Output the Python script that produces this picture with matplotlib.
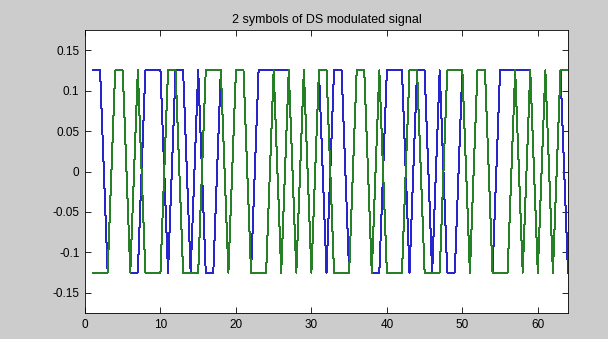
import numpy as np
import matplotlib
matplotlib.use('Agg')
import matplotlib.pyplot as plt

# chip index (matlab style, 1-based)
n = np.arange(1, 65)

# blue trace (2 symbols x 32 chips)
blue = [0.125, 0.125, -0.125, 0.125, 0.125, -0.125, -0.125, 0.125,
        0.125, 0.125, -0.125, 0.125, 0.125, -0.125, 0.125, -0.125,
        -0.125, 0.125, -0.125, 0.125, 0.125, -0.125, 0.125, 0.125,
        0.125, 0.125, 0.125, -0.125, 0.125, -0.125, 0.125, -0.125,
        0.125, 0.125, -0.125, 0.125, 0.125, -0.125, -0.125, 0.125,
        0.125, 0.125, -0.125, 0.125, 0.125, -0.125, 0.125, -0.125,
        -0.125, 0.125, -0.125, 0.125, 0.125, -0.125, 0.125, 0.125,
        0.125, 0.125, 0.125, -0.125, 0.125, -0.125, 0.125, -0.125]

# green trace
green = [-0.125, -0.125, -0.125, 0.125, 0.125, -0.125, 0.125, -0.125,
         -0.125, -0.125, 0.125, 0.125, -0.125, -0.125, -0.125, 0.125,
         0.125, 0.125, -0.125, 0.125, 0.125, -0.125, -0.125, -0.125,
         0.125, -0.125, 0.125, -0.125, 0.125, -0.125, 0.125, 0.125,
         -0.125, -0.125, -0.125, 0.125, 0.125, -0.125, 0.125, -0.125,
         -0.125, -0.125, 0.125, 0.125, -0.125, -0.125, -0.125, 0.125,
         0.125, 0.125, -0.125, 0.125, 0.125, -0.125, -0.125, -0.125,
         0.125, -0.125, 0.125, -0.125, 0.125, -0.125, 0.125, 0.125]

xticks = [0, 10, 20, 30, 40, 50, 60]
yticks = [-0.15, -0.1, -0.05, 0, 0.05, 0.1, 0.15]
ytick_labels = ['-0.15', '-0.1', '-0.05', '0', '0.05', '0.1', '0.15']

plt.rcParams['font.family'] = ['Liberation Sans', 'DejaVu Sans']

fig = plt.figure(figsize=(6.08, 3.39), dpi=100, facecolor='#cccccc')
ax = fig.add_axes([0.1398, 0.0767, 0.7944, 0.8348])
ax.set_facecolor('white')

# matlab draws these without smoothing, hence the stair-step look
ax.plot(n, blue, color=(0.15, 0.15, 0.8), lw=0.72, antialiased=False)
ax.plot(n, green, color=(0.15, 0.5, 0.15), lw=0.72, antialiased=False)

ax.set_xlim(0, 64)
ax.set_ylim(-0.175, 0.175)
ax.set_xticks(xticks)
ax.set_yticks(yticks)
ax.set_yticklabels(ytick_labels)
ax.tick_params(direction='in', top=True, right=True, length=4, width=0.6,
               labelsize=8.5, pad=4)
for s in ax.spines.values():
    s.set_linewidth(0.6)

ax.set_title('2 symbols of DS modulated signal', fontsize=9, pad=5)

plt.savefig('out.png', dpi=100, facecolor=fig.get_facecolor())
